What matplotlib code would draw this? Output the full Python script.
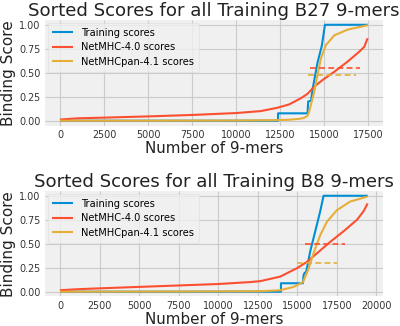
import matplotlib
matplotlib.use("Agg")
import matplotlib.pyplot as plt

plt.style.use("fivethirtyeight")
plt.rcParams["font.family"] = ["DejaVu Sans"]

# ---- data: B27 ----
b27_train_x = [0, 12370, 12370, 14040, 14080, 14240, 14330, 14600, 14850, 15030, 17450]
b27_train_y = [0, 0, 0.077, 0.077, 0.20, 0.21, 0.33, 0.60, 0.78, 1.0, 1.0]
b27_mhc_x = [0, 1000, 2500, 5000, 7500, 10000, 11380, 12330, 13000, 13660, 14040, 14420,
             14900, 15560, 16320, 16980, 17260, 17450]
b27_mhc_y = [0.012, 0.025, 0.032, 0.045, 0.06, 0.08, 0.10, 0.135, 0.17, 0.234, 0.28, 0.355,
             0.425, 0.51, 0.617, 0.72, 0.77, 0.86]
b27_pan_x = [0, 5000, 10000, 12000, 13000, 13600, 13850, 14040, 14130, 14420, 14610, 14800,
             15090, 15560, 16320, 17450]
b27_pan_y = [0, 0, 0.002, 0.005, 0.01, 0.02, 0.03, 0.05, 0.094, 0.30, 0.48, 0.65,
             0.79, 0.89, 0.95, 0.995]
b27_mhc_thr_x = [14200, 17000]
b27_mhc_thr = 0.55
b27_pan_thr_x = [14050, 16800]
b27_pan_thr = 0.48

# ---- data: B8 ----
b8_train_x = [0, 13970, 13970, 15360, 15400, 15440, 15570, 15820, 16245, 16455, 16665, 19450]
b8_train_y = [0, 0, 0.088, 0.088, 0.17, 0.19, 0.21, 0.42, 0.70, 0.84, 1.0, 1.0]
b8_mhc_x = [0, 1000, 2500, 5000, 7500, 10000, 12000, 12660, 13920, 14980, 15610, 16245,
            17090, 17930, 18780, 19200, 19450]
b8_mhc_y = [0.015, 0.025, 0.035, 0.05, 0.065, 0.08, 0.10, 0.11, 0.157, 0.245, 0.31, 0.40,
            0.52, 0.63, 0.75, 0.84, 0.92]
b8_pan_x = [0, 8000, 12660, 13920, 14770, 15360, 15720, 16030, 16455, 16880, 17510, 18350, 19410]
b8_pan_y = [0, 0.002, 0.005, 0.015, 0.05, 0.10, 0.24, 0.40, 0.59, 0.73, 0.85, 0.94, 0.99]
b8_mhc_thr_x = [15500, 18000]
b8_mhc_thr = 0.50
b8_pan_thr_x = [15000, 17500]
b8_pan_thr = 0.30

labels = ["Training scores", "NetMHC-4.0 scores", "NetMHCpan-4.1 scores"]
titles = ["Sorted Scores for all Training B27 9-mers", "Sorted Scores for all Training B8 9-mers"]
yticks = [0.0, 0.25, 0.5, 0.75, 1.0]
ytick_labels = ["0.00", "0.25", "0.50", "0.75", "1.00"]

blue, red, yellow = "#008fd5", "#fc4f30", "#e5ae38"

fig = plt.figure(figsize=(4, 3.26), dpi=100, facecolor="white")
ax1 = fig.add_axes([0.1115, 0.615, 0.846, 0.3237])
ax2 = fig.add_axes([0.1115, 0.0905, 0.846, 0.3237])

panels = [
    (ax1, b27_train_x, b27_train_y, b27_mhc_x, b27_mhc_y, b27_pan_x, b27_pan_y,
     b27_mhc_thr_x, b27_mhc_thr, b27_pan_thr_x, b27_pan_thr, titles[0],
     [0, 2500, 5000, 7500, 10000, 12500, 15000, 17500]),
    (ax2, b8_train_x, b8_train_y, b8_mhc_x, b8_mhc_y, b8_pan_x, b8_pan_y,
     b8_mhc_thr_x, b8_mhc_thr, b8_pan_thr_x, b8_pan_thr, titles[1],
     [0, 2500, 5000, 7500, 10000, 12500, 15000, 17500, 20000]),
]

for (ax, tx, ty, mx, my, px, py, mtx, mt, ptx, pt, title, xt) in panels:
    ax.set_facecolor("#f0f0f0")
    ax.plot(tx, ty, color=blue, lw=1.5, label=labels[0])
    ax.plot(mx, my, color=red, lw=1.5, label=labels[1])
    ax.plot(px, py, color=yellow, lw=1.5, label=labels[2])
    ax.plot(mtx, [mt, mt], color=red, lw=1.2, ls=(0, (3.5, 2)))
    ax.plot(ptx, [pt, pt], color=yellow, lw=1.2, ls=(0, (3.5, 2)))
    ax.set_title(title, fontsize=13.1, pad=3, color="#222222")
    ax.set_xlabel("Number of 9-mers", fontsize=10.9, labelpad=1, color="#222222")
    ax.set_ylabel("Binding Score", fontsize=11, labelpad=2, color="#222222")
    ax.set_yticks(yticks)
    ax.set_yticklabels(ytick_labels)
    ax.set_xticks(xt)
    ax.tick_params(axis="both", labelsize=6.9, pad=3, length=0, labelcolor="#333333")
    ax.grid(True, color="#cbcbcb", lw=0.8)
    for s in ax.spines.values():
        s.set_visible(False)
    leg = ax.legend(loc="upper left", fontsize=7.1, frameon=True, handlelength=2.1,
                    handletextpad=0.8, borderpad=0.5, labelspacing=0.45,
                    borderaxespad=0.3)
    leg.get_frame().set_facecolor("#f0f0f0")
    leg.get_frame().set_edgecolor("#dddddd")

fig.savefig("out.png", dpi=100, facecolor="white")
